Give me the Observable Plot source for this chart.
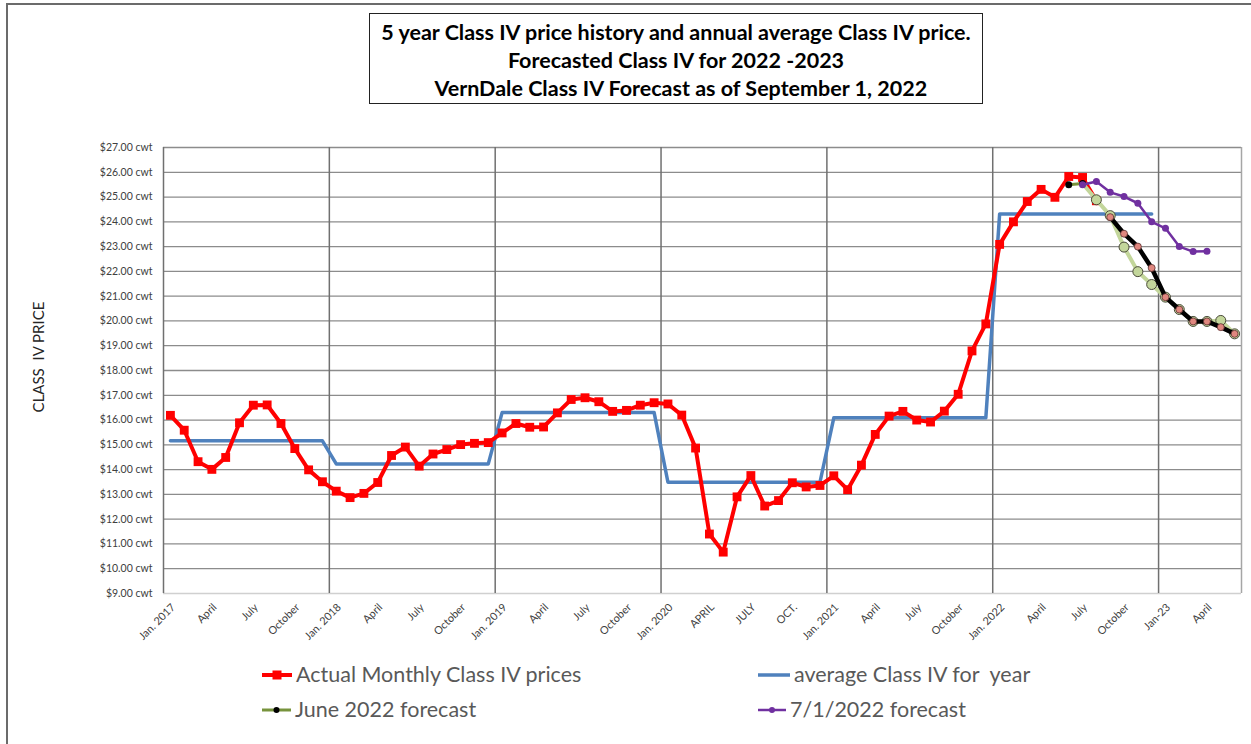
<!DOCTYPE html>
<html>
<head>
<meta charset="utf-8">
<script src="https://cdn.jsdelivr.net/npm/d3@7"></script>
<script src="https://cdn.jsdelivr.net/npm/@observablehq/plot@0.6"></script>
<style>
  html, body { margin: 0; padding: 0; background: #fff; }
  #wrap { position: relative; width: 1251px; height: 744px; overflow: hidden; font-family: Lato, "Open Sans", sans-serif; }
  #wrap svg { position: absolute; left: 0; top: 0; }
  .border-top { position: absolute; left: 6px; top: 3px; width: 1245px; height: 2px; background: #6b6b6b; }
  .border-left { position: absolute; left: 6px; top: 3px; width: 2px; height: 741px; background: #6b6b6b; }
  #title { position: absolute; left: 369px; top: 13px; border: 1.5px solid #222; box-sizing: border-box; height: 91px; width: 614px;
           text-align: center; font-weight: bold; font-size: 21.5px; color: #000; line-height: 28px; padding-top: 4px; white-space: pre; }
  .leg { position: absolute; font-size: 21.5px; color: #595959; white-space: pre; line-height: 26px; }
  .legsvg { position: absolute; }
  #ylab { position: absolute; left: 38px; top: 357px; transform: translate(-50%, -50%) rotate(-90deg); font-size: 15px; color: #262626; white-space: pre; }
</style>
</head>
<body>
<div id="wrap">
  <div class="border-top"></div>
  <div class="border-left"></div>
  <div id="title">5 year Class IV price history and annual average Class IV price.
Forecasted Class IV for 2022 -2023
  VernDale Class IV Forecast as of September 1, 2022</div>
  <div id="ylab">CLASS  IV PRICE</div>
  <div id="chart"></div>
  <div id="legend"></div>
</div>
<script>
// ---- Data (month index 0 = Jan 2017) ----
const actualMonthly = [
  16.19, 15.59, 14.32, 14.01, 14.49, 15.89, 16.60, 16.61, 15.86, 14.85, 13.99, 13.51,
  13.13, 12.87, 13.04, 13.48, 14.57, 14.91, 14.14, 14.63, 14.81, 15.01, 15.06, 15.09,
  15.48, 15.86, 15.71, 15.72, 16.29, 16.83, 16.90, 16.74, 16.35, 16.39, 16.60, 16.70,
  16.65, 16.20, 14.87, 11.40, 10.67, 12.90, 13.76, 12.53, 12.75, 13.47, 13.30, 13.36,
  13.75, 13.19, 14.18, 15.42, 16.16, 16.35, 16.00, 15.92, 16.36, 17.04, 18.79, 19.88,
  23.09, 24.00, 24.82, 25.31, 24.99, 25.83, 25.79, 24.85
];
const annualAverage = [15.16, 14.23, 16.30, 13.49, 16.09, 24.32]; // 2017..2022
const juneForecastStart = 65;   // Jun 2022
const juneForecast = [25.50, 25.55];
const augForecastStart = 67;    // Aug 2022 (light green circles)
const augForecast = [24.89, 24.25, 22.98, 21.99, 21.47, 20.96, 20.46, 19.98, 19.98, 20.02, 19.48];
const julyForecastStart = 66;   // Jul 2022
const julyForecast = [25.50, 25.63, 25.19, 25.02, 24.75, 24.00, 23.74, 23.00, 22.80, 22.81];
const septForecastStart = 68;   // Sep 2022
const septForecast = [24.19, 23.52, 23.00, 22.14, 20.96, 20.46, 19.98, 19.98, 19.75, 19.48];
const xTickLabels = [
  "Jan. 2017", "April", "July", "October",
  "Jan. 2018", "April", "July", "October",
  "Jan. 2019", "April", "July", "October",
  "Jan. 2020", "APRIL", "JULY", "OCT.",
  "Jan. 2021", "April", "July", "October",
  "Jan. 2022", "April", "July", "October",
  "Jan-23", "April"
];
const totalMonths = 78;
const yTicks = d3.range(9, 28);

// ---- Build tables ----
const series = (arr, start) => arr.map((v, i) => ({x: start + i + 0.5, y: v}));
const actual = series(actualMonthly, 0);
const avgMonthly = annualAverage.flatMap((v, yr) => d3.range(12).map(m => ({x: yr * 12 + m + 0.5, y: v})));
const june = series(juneForecast, juneForecastStart);
const aug = series(augForecast, augForecastStart);
const augLine = [june[june.length - 1], ...aug];
const july = series(julyForecast, julyForecastStart);
const sept = series(septForecast, septForecastStart);
const xTicks = xTickLabels.map((t, i) => ({x: i * 3 + 0.5, label: t}));
const yearLines = d3.range(0, 73, 12);

const font = "Lato, 'Open Sans', sans-serif";

const chart = Plot.plot({
  width: 1251,
  height: 744,
  marginLeft: 163,
  marginRight: 10,
  marginTop: 147,
  marginBottom: 151,
  style: {fontFamily: font, background: "transparent", overflow: "visible"},
  x: {domain: [0, totalMonths], axis: null},
  y: {domain: [9, 27], axis: null},
  marks: [
    Plot.ruleY(yTicks.filter(d => d > 9), {stroke: "#8c8c8c", strokeWidth: 1.3}),
    Plot.ruleY([9], {stroke: "#d0d0d0", strokeWidth: 1.5}),
    Plot.ruleX(yearLines, {stroke: "#707070", strokeWidth: 1.5}),
    Plot.ruleX([totalMonths], {stroke: "#a6a6a6", strokeWidth: 1.5}),
    Plot.text(yTicks, {x: 0, y: d => d, text: d => `$${d.toFixed(2)} cwt`, textAnchor: "end", dx: -11, fontSize: 10.5, fill: "#404040"}),
    Plot.text(xTicks, {x: "x", y: 9, text: "label", rotate: -45, textAnchor: "end", dx: 3, dy: 12, fontSize: 10.8, fill: "#404040"}),
    // average
    Plot.line(avgMonthly, {x: "x", y: "y", stroke: "#4f81bd", strokeWidth: 3.5}),
    // actual
    Plot.line(actual, {x: "x", y: "y", stroke: "#ff0000", strokeWidth: 4}),
    Plot.dot(actual, {x: "x", y: "y", symbol: "square", r: 5, fill: "#ff0000"}),
    // light green forecast
    Plot.line(augLine, {x: "x", y: "y", stroke: "#c3d69b", strokeWidth: 4}),
    Plot.dot(aug, {x: "x", y: "y", r: 5, fill: "#c3d69b", stroke: "#4a4a3a", strokeWidth: 1}),
    // June forecast
    Plot.line(june, {x: "x", y: "y", stroke: "#77933c", strokeWidth: 3}),
    Plot.dot(june, {x: "x", y: "y", r: 3.5, fill: "#000"}),
    // Sept forecast (black)
    Plot.line(sept, {x: "x", y: "y", stroke: "#000", strokeWidth: 4.5}),
    Plot.dot(sept, {x: "x", y: "y", r: 3.5, fill: "#e0877f", stroke: "#5a3030", strokeWidth: 0.8}),
    // July forecast (purple)
    Plot.line(july, {x: "x", y: "y", stroke: "#7030a0", strokeWidth: 2.5}),
    Plot.dot(july, {x: "x", y: "y", r: 3.5, fill: "#7030a0"})
  ]
});
document.getElementById("chart").appendChild(chart);

// ---- Legend ----
const legendItems = [
  {label: "Actual Monthly Class IV prices", color: "#ff0000", x: 262, y: 675, w: 30, sw: 4, marker: "square"},
  {label: "average Class IV for  year", color: "#4f81bd", x: 758, y: 675, w: 32, sw: 3.5, marker: null},
  {label: "June 2022 forecast", color: "#77933c", x: 262, y: 710, w: 29, sw: 3, marker: "dotblack"},
  {label: "7/1/2022 forecast", color: "#7030a0", x: 758, y: 710, w: 28, sw: 2.5, marker: "dot"}
];
const legend = document.getElementById("legend");
for (const it of legendItems) {
  const ns = "http://www.w3.org/2000/svg";
  const s = document.createElementNS(ns, "svg");
  s.setAttribute("class", "legsvg");
  s.setAttribute("width", it.w + 4);
  s.setAttribute("height", 14);
  s.style.left = (it.x - 2) + "px";
  s.style.top = (it.y - 7) + "px";
  const ln = document.createElementNS(ns, "line");
  ln.setAttribute("x1", 2); ln.setAttribute("x2", it.w + 2);
  ln.setAttribute("y1", 7); ln.setAttribute("y2", 7);
  ln.setAttribute("stroke", it.color); ln.setAttribute("stroke-width", it.sw);
  s.appendChild(ln);
  if (it.marker === "square") {
    const r = document.createElementNS(ns, "rect");
    r.setAttribute("x", it.w / 2 + 2 - 4.5); r.setAttribute("y", 2.5);
    r.setAttribute("width", 9); r.setAttribute("height", 9);
    r.setAttribute("fill", it.color);
    s.appendChild(r);
  } else if (it.marker) {
    const c = document.createElementNS(ns, "circle");
    c.setAttribute("cx", it.w / 2 + 2); c.setAttribute("cy", 7); c.setAttribute("r", 3);
    c.setAttribute("fill", it.marker === "dotblack" ? "#000" : it.color);
    s.appendChild(c);
  }
  legend.appendChild(s);
  const d = document.createElement("div");
  d.className = "leg";
  d.textContent = it.label;
  d.style.left = (it.x + it.w + 4) + "px";
  d.style.top = (it.y - 14) + "px";
  legend.appendChild(d);
}
</script>
</body>
</html>
